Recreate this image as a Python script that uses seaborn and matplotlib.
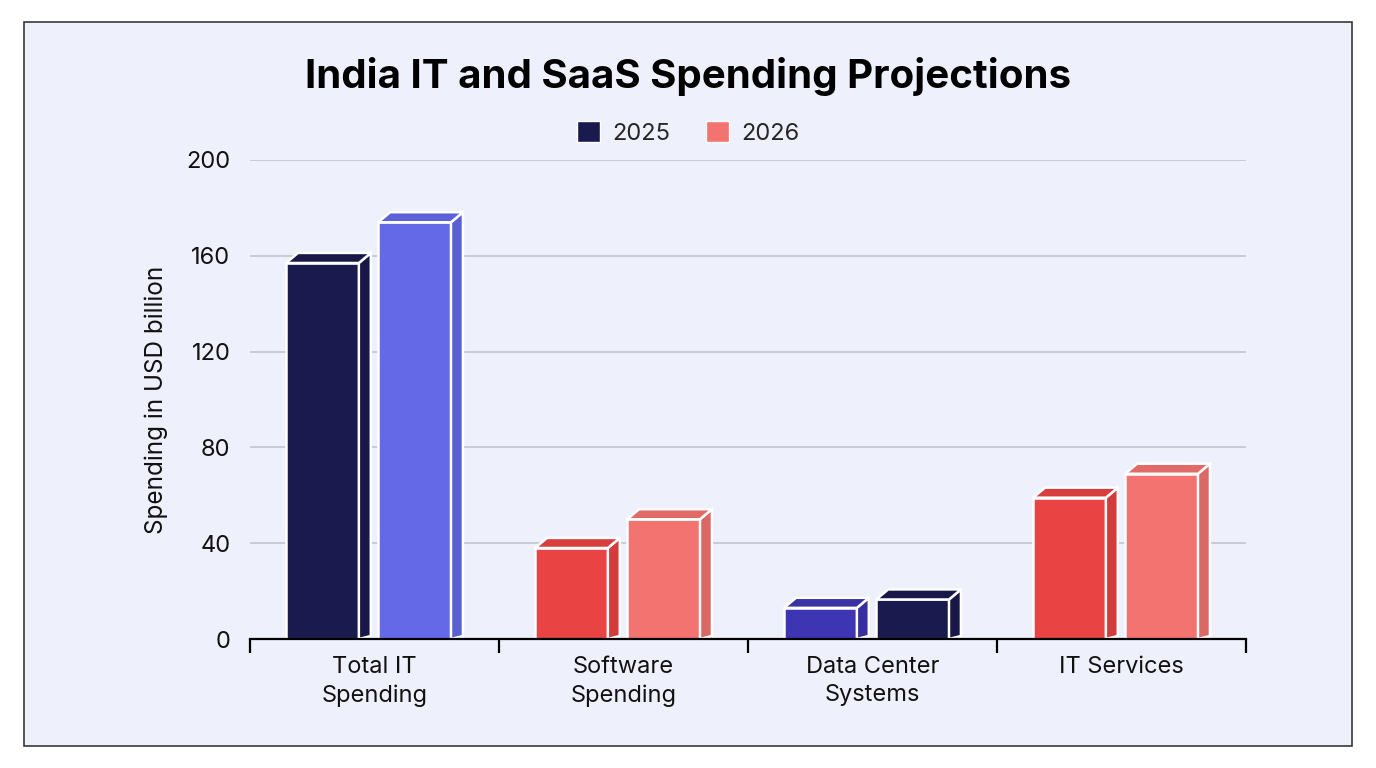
import matplotlib
matplotlib.use("Agg")
import matplotlib.pyplot as plt
import matplotlib.colors as mcolors
from matplotlib.patches import Polygon, Patch, Rectangle
import seaborn as sns
import pandas as pd

categories = ["Total IT\nSpending", "Software\nSpending", "Data Center\nSystems", "IT Services"]
years = ["2025", "2026"]
values_2025 = [157, 38, 13, 59]
values_2026 = [174, 50, 16.5, 69]
colors_2025 = ["#1B1A4F", "#E94343", "#3E35B3", "#E94343"]
colors_2026 = ["#6469E8", "#F2736F", "#1B1A4F", "#F2736F"]
legend_colors = ["#1B1A4F", "#F2736F"]

df = pd.DataFrame({
    "category": categories * 2,
    "year": [years[0]] * 4 + [years[1]] * 4,
    "value": values_2025 + values_2026,
})

sns.set_theme(style="white")
plt.rcParams["font.family"] = ["Inter", "DejaVu Sans"]

fig = plt.figure(figsize=(13.76, 7.68), dpi=100)
fig.patch.set_facecolor("white")
fig.patches.append(Rectangle((24 / 1376, 1 - 746 / 768), 1328 / 1376, 724 / 768,
                             transform=fig.transFigure, facecolor="#EEF0FB",
                             edgecolor="#3a3a3a", linewidth=1.2, zorder=-5))

ax = fig.add_axes([250 / 1376, 1 - 639 / 768, 996 / 1376, 479 / 768])
ax.set_facecolor("none")
ax.set_zorder(2)

sns.barplot(data=df, x="category", y="value", hue="year", order=categories,
            hue_order=years, width=0.74, gap=0.21, ax=ax, legend=False,
            edgecolor="white", linewidth=1.8, zorder=3)


def shade(c, f):
    r, g, b = mcolors.to_rgb(c)
    return (r * f, g * f, b * f)


# fake 3D: top and side faces on each seaborn bar
dx, dy = 0.048, 4.2
for cont, cols in zip(ax.containers, [colors_2025, colors_2026]):
    for bar, c in zip(cont, cols):
        bar.set_x(bar.get_x() - 0.024)
        bar.set_facecolor(c)
        x0, w, h = bar.get_x(), bar.get_width(), bar.get_height()
        top = Polygon([(x0, h), (x0 + dx, h + dy), (x0 + w + dx, h + dy), (x0 + w, h)],
                      closed=True, facecolor=shade(c, 0.93), edgecolor="white",
                      linewidth=1.8, zorder=3, clip_on=False)
        side = Polygon([(x0 + w, 0), (x0 + w, h), (x0 + w + dx, h + dy), (x0 + w + dx, dy * 0.3)],
                       closed=True, facecolor=shade(c, 0.9), edgecolor="white",
                       linewidth=1.8, zorder=3, clip_on=False)
        ax.add_patch(side)
        ax.add_patch(top)

ax.set_xlim(-0.5, 3.5)
ax.set_ylim(0, 200)
ax.set_yticks([0, 40, 80, 120, 160, 200])
ax.yaxis.grid(True, color="#C0C1C9", linewidth=1.1, zorder=0)
ax.set_axisbelow(True)
for s in ["top", "right", "left"]:
    ax.spines[s].set_visible(False)
ax.spines["bottom"].set_color("black")
ax.spines["bottom"].set_linewidth(1.6)
ax.spines["bottom"].set_zorder(5)

ax.set_xticks([-0.5, 0.5, 1.5, 2.5, 3.5], minor=True)
ax.tick_params(axis="x", which="minor", length=10, width=1.6, color="black", direction="out", bottom=True)
ax.tick_params(axis="x", which="major", length=0, pad=12, labelsize=17, labelcolor="#111111")
ax.tick_params(axis="y", length=0, pad=14, labelsize=17, labelcolor="#111111")
for lbl in ax.get_xticklabels():
    lbl.set_linespacing(1.4)
    lbl.set_verticalalignment("top")

ax.set_xlabel("")
ax.set_ylabel("Spending in USD billion", fontsize=17.5, color="#111111", labelpad=13)

fig.text(0.5, 1 - 77 / 768, "India IT and SaaS Spending Projections", ha="center", va="center",
         fontsize=29, fontweight="bold", color="black")

handles = [Patch(facecolor=c, edgecolor="white", label=y) for c, y in zip(legend_colors, years)]
fig.legend(handles=handles, loc="center", bbox_to_anchor=(0.5, 1 - 133 / 768), ncol=2,
           frameon=False, fontsize=17, handlelength=1.0, handleheight=1.0,
           handletextpad=0.5, columnspacing=1.5)

fig.savefig("out.png", dpi=100, facecolor=fig.get_facecolor())
